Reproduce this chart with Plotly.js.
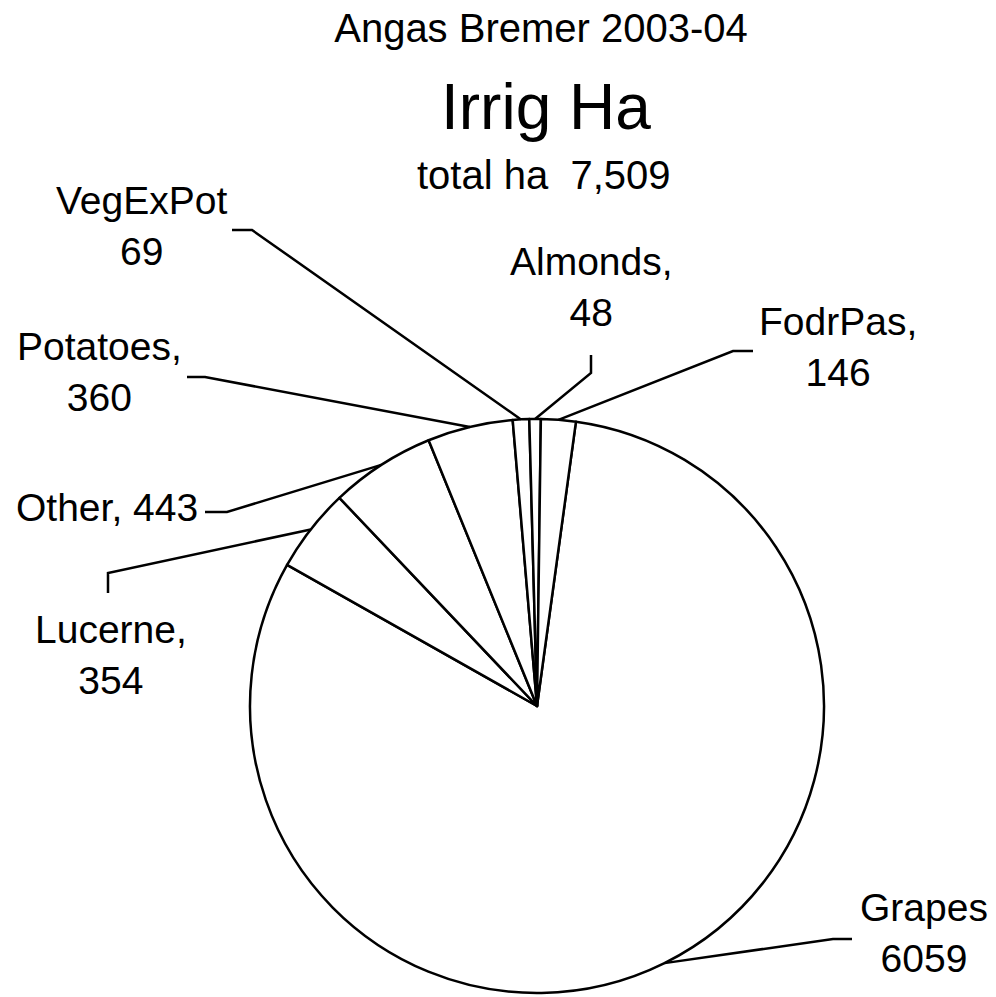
<!DOCTYPE html>
<html>
<head>
<meta charset="utf-8">
<script src="https://cdn.plot.ly/plotly-3.0.1.min.js"></script>
<style>html,body{margin:0;padding:0;background:#fff;}#chart{width:996px;height:997px;}</style>
</head>
<body>
<div id="chart"></div>
<script>
// ---- data ----
const categories = ['Grapes', 'Lucerne', 'Other', 'Potatoes', 'VegExPot', 'Almonds', 'FodrPas'];
const hectares   = [6059, 354, 443, 360, 69, 48, 146];
const separators = ['<br>', ',<br>', ', ', ',<br>', '<br>', ',<br>', ',<br>'];
const titleText  = 'Angas Bremer 2003-04';
const subTitle   = 'Irrig Ha';
const totalText  = 'total ha  7,509';

// ---- layout constants (pixels) ----
const W = 996, H = 997;
const CX = 537, CY = 706, R = 287;
const ROT = 7.8;
const FONT = '"Liberation Sans", Arial, sans-serif';
// label block centre (px)
const labelPos = [[924, 933], [111, 655], [107, 507], [99, 372], [141, 226], [591, 287], [838, 347]];
const labelAnchor = ['center', 'center', 'center', 'center', 'center', 'center', 'center'];
// leader line: start point, elbow point (px)
const leaderPts = [
  [[852, 939], [833, 939]],
  [[108, 593], [108, 573]],
  [[205, 512], [227, 512]],
  [[187, 377], [205, 377]],
  [[232, 230], [252, 230]],
  [[591, 355], [591, 373]],
  [[753, 351], [733, 351]]
];

const px2x = p => p / W;
const px2y = p => 1 - p / H;

// slice mid-angles from the data
const total = hectares.reduce((a, b) => a + b, 0);
let acc = 0;
const edgePts = hectares.map(v => {
  const mid = (ROT + (acc + v / 2) / total * 360) * Math.PI / 180;
  acc += v;
  return [CX + R * Math.sin(mid), CY - R * Math.cos(mid)];
});

const shapes = categories.map((c, i) => {
  const [a, b] = leaderPts[i];
  const e = edgePts[i];
  return {
    type: 'path', xref: 'paper', yref: 'paper',
    path: `M ${px2x(a[0])} ${px2y(a[1])} L ${px2x(b[0])} ${px2y(b[1])} L ${px2x(e[0])} ${px2y(e[1])}`,
    line: {color: '#000', width: 2.5}
  };
});

const annotations = categories.map((c, i) => ({
  xref: 'paper', yref: 'paper',
  x: px2x(labelPos[i][0]), y: px2y(labelPos[i][1]),
  xanchor: labelAnchor[i], yanchor: 'middle',
  text: c + separators[i] + hectares[i],
  showarrow: false, align: 'center',
  font: {family: FONT, size: 39, color: '#000'}
}));
annotations.push({
  xref: 'paper', yref: 'paper', x: px2x(546), y: px2y(107), xanchor: 'center', yanchor: 'middle',
  text: subTitle, showarrow: false, font: {family: FONT, size: 64, color: '#000'}
});
annotations.push({
  xref: 'paper', yref: 'paper', x: px2x(544), y: px2y(175), xanchor: 'center', yanchor: 'middle',
  text: totalText, showarrow: false, font: {family: FONT, size: 40, color: '#000'}
});

const trace = {
  type: 'pie',
  labels: categories,
  values: hectares,
  sort: false,
  direction: 'clockwise',
  rotation: ROT,
  textinfo: 'none',
  hoverinfo: 'label+value',
  marker: {colors: categories.map(() => '#ffffff'), line: {color: '#000', width: 2.5}},
  domain: {x: [(CX - R) / W, (CX + R) / W], y: [1 - (CY + R) / H, 1 - (CY - R) / H]},
  showlegend: false
};

const layout = {
  width: W, height: H,
  margin: {l: 0, r: 0, t: 0, b: 0},
  paper_bgcolor: '#fff', plot_bgcolor: '#fff',
  showlegend: false,
  title: {
    text: titleText, font: {family: FONT, size: 40, color: '#000'},
    xref: 'paper', yref: 'container', x: px2x(541), xanchor: 'center', y: 1 - 28 / H, yanchor: 'middle'
  },
  font: {family: FONT, color: '#000'},
  shapes: shapes,
  annotations: annotations
};

Plotly.newPlot('chart', [trace], layout, {displayModeBar: false, staticPlot: true});
</script>
</body>
</html>
